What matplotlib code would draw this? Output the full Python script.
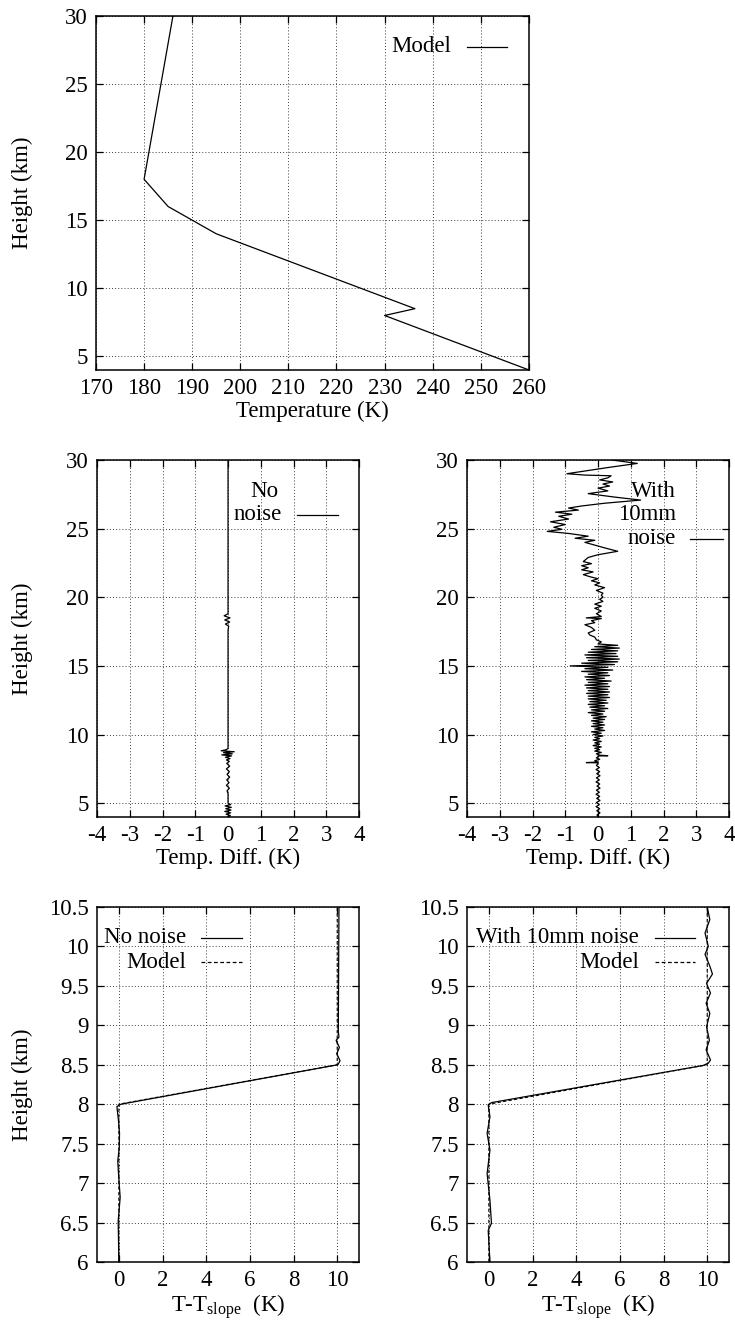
import matplotlib
matplotlib.use("Agg")
import matplotlib.pyplot as plt

plt.rcParams["font.family"] = ["Liberation Serif", "DejaVu Serif"]
plt.rcParams["mathtext.fontset"] = "custom"
plt.rcParams["mathtext.rm"] = "Liberation Serif"
plt.rcParams["mathtext.it"] = "Liberation Serif:italic"
plt.rcParams["axes.unicode_minus"] = False
FS = 16.5

# --- model temperature profile (top panel)
model_temp = [260, 230, 236.3, 195, 185, 180, 186]
model_height = [4, 8, 8.5, 14, 16, 18, 30]

# --- temperature difference, no noise (middle left)
nn_height = [30, 18.8, 18.65, 18.5, 18.35, 18.2, 18.05, 17.9, 17.6, 9.0,
             8.9, 8.82, 8.75, 8.68, 8.6, 8.52, 8.45, 8.35, 8.25, 8.15,
             8.05, 7.9, 7.7, 7.5, 7.3, 7.1, 6.9, 6.7, 6.5, 6.3,
             6.1, 5.9, 5.7, 5.0, 4.9, 4.8, 4.7, 4.6, 4.5, 4.4,
             4.3, 4.2, 4.1, 4.0]
nn_diff = [0.0, 0.0, -0.12, 0.06, -0.1, 0.05, -0.08, 0.02, 0.0, 0.0,
           -0.05, -0.21, 0.19, -0.14, 0.13, -0.19, 0.11, -0.08, 0.06, -0.05,
           0.04, -0.04, 0.05, -0.05, 0.04, -0.03, 0.05, -0.04, 0.03, -0.05,
           0.04, -0.03, 0.0, 0.0, 0.08, -0.09, 0.1, -0.07, 0.09, -0.1,
           0.08, -0.06, 0.07, 0.0]

# --- temperature difference, with 10mm noise (middle right)
wn_height = [30.0, 29.75, 29.45, 29.0, 28.9, 28.85, 28.7, 28.55, 28.4, 28.25,
             28.1, 27.95, 27.75, 27.55, 27.3, 27.08, 26.85, 26.65, 26.5, 26.35,
             26.2, 26.05, 25.9, 25.7, 25.5, 25.3, 25.1, 24.95, 24.8, 24.65,
             24.45, 24.3, 24.15, 24.0, 23.8, 23.6, 23.35, 23.1, 22.9, 22.6,
             22.45, 22.3, 22.15, 22.0, 21.85, 21.65, 21.5, 21.35, 21.2, 21.05,
             20.9, 20.7, 20.5, 20.3, 20.15, 20.0, 19.85, 19.7, 19.5, 19.35,
             19.2, 19.0, 18.8, 18.6, 18.5, 18.45, 18.3, 18.15, 18.0, 17.8,
             17.6, 17.4, 17.25, 17.1, 16.9, 16.75, 16.6, 16.5, 16.4, 16.3,
             16.2, 16.1, 16.0, 15.9, 15.8, 15.7, 15.6, 15.5, 15.4, 15.3,
             15.2, 15.1, 15.0, 14.9, 14.8, 14.7, 14.6, 14.5, 14.4, 14.3,
             14.2, 14.1, 14.0, 13.9, 13.8, 13.7, 13.6, 13.5, 13.4, 13.3,
             13.2, 13.1, 13.0, 12.9, 12.8, 12.7, 12.6, 12.5, 12.4, 12.3,
             12.2, 12.1, 12.0, 11.9, 11.8, 11.7, 11.6, 11.5, 11.4, 11.3,
             11.2, 11.1, 11.0, 10.9, 10.8, 10.7, 10.6, 10.5, 10.4, 10.3,
             10.2, 10.1, 10.0, 9.9, 9.8, 9.7, 9.6, 9.5, 9.4, 9.3,
             9.2, 9.1, 9.0, 8.9, 8.8, 8.7, 8.6, 8.5, 8.46, 8.44,
             8.4, 8.3, 8.2, 8.1, 8.0, 7.96, 7.94, 7.9, 7.75, 7.6,
             7.45, 7.3, 7.15, 7.0, 6.85, 6.7, 6.55, 6.4, 6.25, 6.1,
             5.95, 5.8, 5.65, 5.5, 5.35, 5.2, 5.05, 4.9, 4.75, 4.6,
             4.45, 4.3, 4.15, 4.0]
wn_diff = [0.42, 1.2, 0.3, -0.95, -0.4, 0.4, 0.3, 0.05, 0.45, 0.15,
           0.35, 0.0, 0.3, -0.3, 0.5, 1.3, 0.2, -0.5, -0.9, -0.6,
           -1.3, -0.8, -1.2, -0.9, -1.45, -1.0, -1.35, -1.1, -1.55, -0.9,
           -0.3, -0.7, -0.1, -0.4, -0.1, 0.2, 0.6, 0.0, -0.3, -0.45,
           -0.2, -0.5, -0.3, -0.5, -0.15, -0.45, -0.25, 0.0, -0.2, 0.05,
           -0.1, 0.2, -0.05, 0.15, 0.1, 0.15, 0.05, 0.15, -0.1, 0.1,
           -0.1, 0.1, -0.05, 0.1, -0.36, 0.1, -0.2, -0.1, -0.4, -0.2,
           -0.1, -0.3, -0.25, -0.1, -0.05, 0.1, 0.0, 0.6, -0.1, 0.65,
           -0.2, 0.6, -0.3, 0.55, -0.4, 0.6, -0.35, 0.65, -0.3, 0.6,
           -0.5, 0.5, -0.85, 0.3, -0.4, 0.45, -0.5, 0.3, -0.3, 0.35,
           -0.4, 0.2, -0.35, 0.4, -0.3, 0.3, -0.4, 0.35, -0.35, 0.3,
           -0.3, 0.35, -0.35, 0.3, -0.3, 0.35, -0.3, 0.25, -0.25, 0.3,
           -0.3, 0.2, -0.25, 0.3, -0.2, 0.2, -0.3, 0.15, -0.2, 0.25,
           -0.15, 0.2, -0.2, 0.15, -0.15, 0.2, -0.2, 0.15, -0.1, 0.2,
           -0.2, 0.1, -0.15, 0.15, -0.1, 0.05, -0.15, 0.1, -0.1, 0.05,
           -0.15, 0.1, -0.1, 0.05, -0.1, 0.1, -0.05, 0.05, 0.3, 0.0,
           0.0, -0.05, 0.05, -0.1, 0.0, -0.36, 0.0, 0.0, -0.05, 0.04,
           -0.06, 0.05, -0.04, 0.06, -0.05, 0.04, -0.06, 0.05, -0.03, 0.06,
           -0.05, 0.04, -0.06, 0.05, -0.04, 0.06, -0.05, 0.04, -0.06, 0.05,
           -0.04, 0.06, -0.03, 0.0]

# --- T - T_slope (bottom panels)
tslope_model_height = [6.0, 8.0, 8.5, 10.5]
tslope_model = [0.0, 0.0, 10.0, 10.0]

nn_ts_height = [6.0, 6.52, 6.82, 7.05, 7.28, 7.45, 7.63, 7.8, 7.97, 8.0,
                8.5, 8.55, 8.64, 8.72, 8.81, 8.85, 8.92, 10.5]
nn_ts = [0.0, -0.03, 0.06, 0.0, -0.05, 0.02, 0.03, -0.02, -0.09, 0.1,
         10.03, 10.13, 9.98, 10.1, 9.95, 10.08, 10.05, 10.08]

wn_ts_height = [6.0, 6.4, 6.49, 6.78, 7.12, 7.42, 7.63, 7.84, 7.99, 8.02,
                8.49, 8.52, 8.56, 8.69, 8.81, 8.98, 9.15, 9.28, 9.41, 9.53,
                9.65, 9.75, 9.9, 10.0, 10.17, 10.34, 10.5]
wn_ts = [0.05, -0.03, 0.12, 0.05, -0.08, 0.05, -0.08, 0.05, -0.03, 0.12,
         9.8, 10.05, 10.15, 9.95, 10.1, 9.97, 10.12, 9.95, 10.15, 9.97,
         10.24, 10.12, 9.9, 10.05, 9.9, 10.12, 10.0]


def style_axes(ax):
    ax.grid(True, color="0.25", linestyle=(0, (1, 2.2)), linewidth=0.7)
    ax.tick_params(direction="in", top=True, right=True, length=5,
                   width=0.9, labelsize=FS, pad=6)
    for s in ax.spines.values():
        s.set_linewidth(1.1)


def key(ax, rows, tx, x0, x1, line_rows, align="right"):
    # rows: list of (text, y); line_rows: list of (y, linestyle)
    for txt, y in rows:
        ax.text(tx, y, txt, transform=ax.transAxes, ha=align, va="center",
                fontsize=FS)
    for y, ls in line_rows:
        ax.plot([x0, x1], [y, y], transform=ax.transAxes, color="black",
                lw=0.9, linestyle=ls, clip_on=False)


DASH = (0, (3, 2))

fig = plt.figure(figsize=(7.35, 13.26), dpi=100)

# top panel
ax = fig.add_axes([0.1306, 0.7210, 0.589, 0.2670])
ax.plot(model_temp, model_height, color="black", lw=0.9)
ax.set_xlim(170, 260)
ax.set_ylim(4, 30)
ax.set_xticks(range(170, 261, 10))
ax.set_yticks(range(5, 31, 5))
ax.set_xlabel("Temperature (K)", fontsize=FS, labelpad=1)
ax.set_ylabel("Height (km)", fontsize=FS)
ax.yaxis.set_label_coords(-0.1455, 0.5)
style_axes(ax)
key(ax, [("Model", 0.913)], 0.821, 0.856, 0.949, [(0.913, "-")])

# middle panels
for i, (hs, ds) in enumerate([(nn_height, nn_diff), (wn_height, wn_diff)]):
    left = 0.132 if i == 0 else 0.6354
    ax = fig.add_axes([left, 0.3839, 0.3565, 0.2692])
    ax.plot(ds, hs, color="black", lw=0.9)
    ax.set_xlim(-4, 4)
    ax.set_ylim(4, 30)
    ax.set_xticks(range(-4, 5))
    ax.set_yticks(range(5, 31, 5))
    ax.set_xlabel("Temp. Diff. (K)", fontsize=FS, labelpad=1)
    if i == 0:
        ax.set_ylabel("Height (km)", fontsize=FS)
        ax.yaxis.set_label_coords(-0.244, 0.5)
        ax.text(0.638, 0.912, "No", transform=ax.transAxes, ha="center",
                va="center", fontsize=FS)
        key(ax, [("noise", 0.846)], 0.705, 0.762, 0.919, [(0.846, "-")])
    else:
        key(ax, [("With", 0.913), ("10mm", 0.846), ("noise", 0.779)],
            0.798, 0.851, 0.977, [(0.779, "-")])
    style_axes(ax)

# bottom panels
for i, (hs, ds) in enumerate([(nn_ts_height, nn_ts), (wn_ts_height, wn_ts)]):
    left = 0.132 if i == 0 else 0.6354
    ax = fig.add_axes([left, 0.0483, 0.3565, 0.2677])
    ax.plot(ds, hs, color="black", lw=0.9)
    ax.plot(tslope_model, tslope_model_height, color="black", lw=0.8,
            linestyle=DASH)
    ax.set_xlim(-1, 11)
    ax.set_ylim(6, 10.5)
    ax.set_xticks(range(0, 11, 2))
    ax.set_yticks([6 + 0.5 * k for k in range(10)])
    ax.set_yticklabels(["6", "6.5", "7", "7.5", "8", "8.5", "9", "9.5",
                        "10", "10.5"])
    ax.set_xlabel(r"T-T$_{\mathrm{slope}}$  (K)", fontsize=FS, labelpad=1)
    if i == 0:
        ax.set_ylabel("Height (km)", fontsize=FS)
        ax.yaxis.set_label_coords(-0.244, 0.5)
        key(ax, [("No noise", 0.913), ("Model", 0.845)], 0.340, 0.396,
            0.552, [(0.913, "-"), (0.845, DASH)])
    else:
        key(ax, [("With 10mm noise", 0.913), ("Model", 0.845)], 0.656,
            0.718, 0.870, [(0.913, "-"), (0.845, DASH)])
    style_axes(ax)

fig.savefig("out.png", dpi=100)
